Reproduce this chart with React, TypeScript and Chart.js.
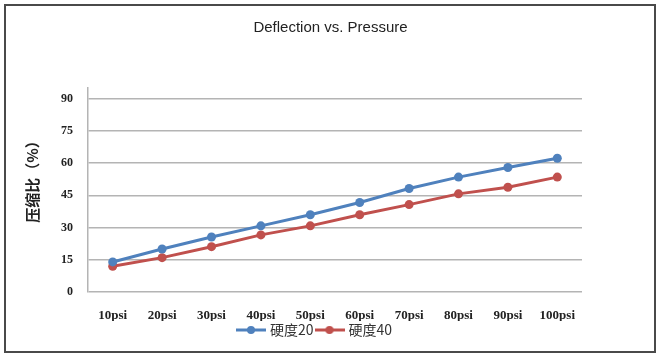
import React, { useEffect, useRef } from "react";
import { Chart, registerables } from "chart.js";

Chart.register(...registerables);

const categories = ["10psi", "20psi", "30psi", "40psi", "50psi", "60psi", "70psi", "80psi", "90psi", "100psi"];
const hardness20 = [14, 20, 25.6, 30.8, 36, 41.7, 48.2, 53.5, 58, 62.3];
const hardness40 = [12, 16, 21.1, 26.6, 30.8, 36, 40.7, 45.7, 48.8, 53.5];
const yTicks = [0, 15, 30, 45, 60, 75, 90];
const seriesNames = ["硬度20", "硬度40"];
const seriesColors = ["#4F81BD", "#C0504D"];
const yTitle = "压缩比（%）";

function legendIcon(color: string) {
  const c = document.createElement("canvas");
  c.width = 30;
  c.height = 10;
  const ctx = c.getContext("2d")!;
  ctx.strokeStyle = color;
  ctx.lineWidth = 3;
  ctx.beginPath();
  ctx.moveTo(0, 5);
  ctx.lineTo(30, 5);
  ctx.stroke();
  ctx.fillStyle = color;
  ctx.beginPath();
  ctx.arc(15, 5, 4, 0, Math.PI * 2);
  ctx.fill();
  return c;
}

const framePlugin = {
  id: "frame",
  beforeDraw(chart: any) {
    const ctx = chart.ctx;
    ctx.save();
    ctx.fillStyle = "#ffffff";
    ctx.fillRect(0, 0, chart.width, chart.height);
    ctx.strokeStyle = "#4a4a4a";
    ctx.lineWidth = 2;
    ctx.strokeRect(5, 5, 650, 347);
    ctx.restore();
  },
  afterLayout(chart: any) {
    if (chart.legend) {
      chart.legend.left -= 15;
      chart.legend.right -= 15;
      chart.legend.top -= 2;
      chart.legend.bottom -= 2;
    }
  },
  afterDraw(chart: any) {
    const ctx = chart.ctx;
    ctx.save();
    ctx.translate(32, 178);
    ctx.rotate(-Math.PI / 2);
    ctx.font = "bold 15px 'Noto Sans CJK SC', sans-serif";
    ctx.fillStyle = "#222";
    ctx.textAlign = "center";
    ctx.textBaseline = "middle";
    ctx.fillText(yTitle, 0, 0);
    ctx.restore();
  },
};

export default function App() {
  const ref = useRef<HTMLCanvasElement>(null);
  useEffect(() => {
    document.body.style.margin = "0";
    const icons = seriesColors.map(legendIcon);
    const chart = new Chart(ref.current!, {
      type: "line",
      data: {
        labels: categories,
        datasets: [
          {
            label: seriesNames[0],
            data: hardness20,
            borderColor: seriesColors[0],
            backgroundColor: seriesColors[0],
            borderWidth: 3,
            pointRadius: 4.5,
            pointHoverRadius: 4.5,
            pointBorderWidth: 0,
          },
          {
            label: seriesNames[1],
            data: hardness40,
            borderColor: seriesColors[1],
            backgroundColor: seriesColors[1],
            borderWidth: 3,
            pointRadius: 4.5,
            pointHoverRadius: 4.5,
            pointBorderWidth: 0,
          },
        ],
      },
      options: {
        animation: false,
        responsive: false,
        maintainAspectRatio: false,
        layout: { padding: { left: 0, right: 0, top: 0, bottom: 9 } },
        plugins: {
          tooltip: { enabled: false },
          title: {
            display: true,
            text: "Deflection vs. Pressure",
            color: "#222",
            font: { family: "'Liberation Sans', Arial, sans-serif", size: 15, weight: "normal" },
            padding: { top: 19, bottom: 51 },
          },
          legend: {
            position: "bottom",
            align: "center",
            labels: {
              usePointStyle: true,
              pointStyleWidth: 24,
              boxHeight: 10,
              padding: 4,
              color: "#333",
              font: { family: "'Noto Sans CJK SC', sans-serif", size: 14 },
              generateLabels(c: any) {
                const items = Chart.defaults.plugins.legend.labels.generateLabels(c);
                items.forEach((it: any, i: number) => {
                  it.pointStyle = icons[i];
                });
                return items;
              },
            },
          },
        },
        scales: {
          x: {
            offset: true,
            grid: { display: false, drawTicks: false },
            border: { display: false },
            ticks: {
              padding: 16,
              color: "#222",
              maxRotation: 0,
              autoSkip: false,
              font: { family: "'Liberation Serif', 'Times New Roman', serif", size: 13, weight: "bold" },
            },
            afterFit(scale: any) {
              scale.height = 29;
            },
          },
          y: {
            min: 0,
            max: 95,
            afterBuildTicks(scale: any) {
              scale.ticks = yTicks.map((v) => ({ value: v }));
            },
            grid: { color: "#b4b4b4", lineWidth: 1.5, drawTicks: false },
            border: { display: true, color: "#b4b4b4", width: 1.5 },
            ticks: {
              padding: 15,
              color: "#222",
              font: { family: "'Liberation Serif', 'Times New Roman', serif", size: 12, weight: "bold" },
            },
            afterFit(scale: any) {
              scale.width = 88;
            },
          },
          yRight: {
            position: "right",
            display: true,
            min: 0,
            max: 95,
            grid: { display: false, drawTicks: false },
            border: { display: false },
            ticks: { display: false },
            afterFit(scale: any) {
              scale.width = 79;
            },
          },
        },
      },
      plugins: [framePlugin],
    } as any);
    return () => chart.destroy();
  }, []);
  return <canvas ref={ref} width={661} height={358} style={{ display: "block" }} />;
}
